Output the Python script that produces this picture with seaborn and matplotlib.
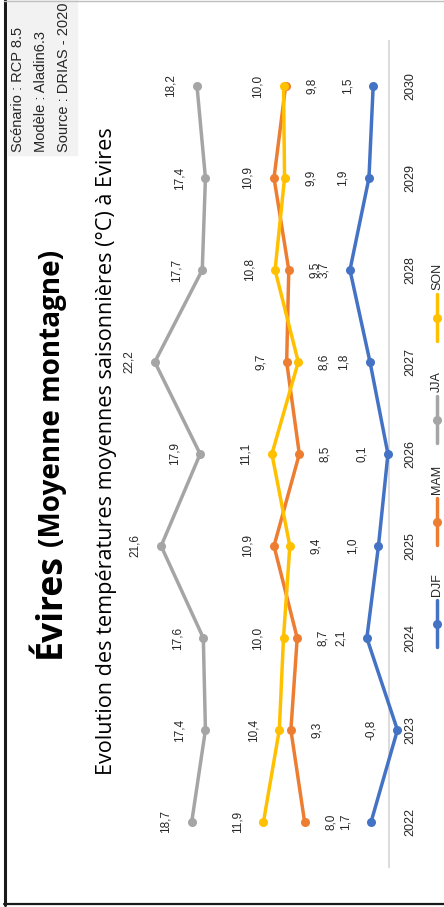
import numpy as np
import pandas as pd
import matplotlib
matplotlib.use("Agg")
import matplotlib.pyplot as plt
import seaborn as sns
from matplotlib.lines import Line2D

# ---------------- data ----------------
years = [2022, 2023, 2024, 2025, 2026, 2027, 2028, 2029, 2030]
seasons = ["DJF", "MAM", "JJA", "SON"]
djf = [1.7, -0.8, 2.1, 1.0, 0.1, 1.8, 3.7, 1.9, 1.5]
mam = [8.0, 9.3, 8.7, 10.9, 8.5, 9.7, 9.5, 10.9, 9.8]
jja = [18.7, 17.4, 17.6, 21.6, 17.9, 22.2, 17.7, 17.4, 18.2]
son = [11.9, 10.4, 10.0, 9.4, 11.1, 8.6, 10.8, 9.9, 10.0]
title_main = "Évires"
title_sub = "(Moyenne montagne)"
subtitle = "Evolution des températures moyennes saisonnières (°C) à Evires"
source_lines = ["Scénario : RCP 8.5", "Modèle : Aladin6.3", "Source : DRIAS - 2020"]

colors = {"DJF": "#4472C4", "MAM": "#ED7D31", "JJA": "#A5A5A5", "SON": "#FFC000"}
series = {"DJF": djf, "MAM": mam, "JJA": jja, "SON": son}

df = pd.DataFrame({
    "Année": years * 4,
    "Saison": [s for s in seasons for _ in years],
    "Temp": djf + mam + jja + son,
})

sns.set_theme(style="white")
plt.rcParams["font.family"] = ["Liberation Sans", "DejaVu Sans"]

W, H = 444, 907
fig = plt.figure(figsize=(W / 100, H / 100), dpi=100)
fig.patch.set_facecolor("white")


def fx(px):
    return px / W


def fy(py):
    return 1 - py / H


# value axis: 0 at x=389 px, 10.55 px per degree (larger values to the left)
zero_px, scale = 389.0, 10.55
left_px, right_px, top_px, bot_px = 100, 420, 40, 868
ax = fig.add_axes([fx(left_px), fy(bot_px), (right_px - left_px) / W, (bot_px - top_px) / H])

ax.axvline(0, color="#d9d9d9", lw=1.3, zorder=0)

sns.lineplot(data=df, x="Temp", y="Année", hue="Saison", hue_order=seasons,
             palette=colors, orient="y", marker="o", markersize=6.5,
             markeredgewidth=0, linewidth=2.5, legend=False, ax=ax, zorder=3)

ax.set_xlim((zero_px - left_px) / scale, (zero_px - right_px) / scale)
ax.set_ylim(2021.5, 2030.5)
ax.axis("off")

# year labels along the category axis
for yr in years:
    ax.annotate(str(yr), xy=(0, yr), xytext=(21, 0), textcoords="offset pixels",
                rotation=90, ha="center", va="center", fontsize=9, color="#262626")

# data labels
for i, yr in enumerate(years):
    for s in seasons:
        v = series[s][i]
        if s in ("JJA", "DJF"):
            side = -1
        else:
            other = son[i] if s == "MAM" else mam[i]
            side = -1 if v > other else 1
        ax.annotate(f"{v:.1f}".replace(".", ","), xy=(v, yr), xytext=(side * 26, 0),
                    textcoords="offset pixels", rotation=90, ha="center", va="center",
                    fontsize=8.5, color="#262626")

renderer = fig.canvas.get_renderer()


def fit(t, target):
    for _ in range(3):
        bb = t.get_window_extent(renderer)
        t.set_fontsize(t.get_fontsize() * target / bb.height)


# titles
t1 = fig.text(fx(60), fy(658), title_main, rotation=90, rotation_mode="anchor",
              ha="left", va="baseline", fontsize=26, fontweight="bold",
              family=["Open Sans", "DejaVu Sans"], color="black")
fit(t1, 105)
t2 = fig.text(fx(60), fy(547), title_sub, rotation=90, rotation_mode="anchor",
              ha="left", va="baseline", fontsize=20, fontweight="bold",
              family=["Open Sans", "DejaVu Sans"], color="black")
fit(t2, 297)
t3 = fig.text(fx(112), fy(775), subtitle, rotation=90, rotation_mode="anchor",
              ha="left", va="baseline", fontsize=14,
              family=["Open Sans", "DejaVu Sans"], color="black")
fit(t3, 647)

# source box
fig.patches.append(plt.Rectangle((fx(8), fy(155)), (77 - 8) / W, 155 / H,
                                 transform=fig.transFigure, color="#f2f2f2", zorder=0))
src = []
for xb, line in zip([22, 45, 68], source_lines):
    src.append(fig.text(fx(xb), fy(152), line, rotation=90, rotation_mode="anchor",
                        ha="left", va="baseline", fontsize=9, color="#262626"))
fit(src[2], 149)
for t in src[:2]:
    t.set_fontsize(src[2].get_fontsize())

# legend (custom, rotated)
for i, s in enumerate(seasons):
    y0 = 647 - i * 102
    fig.add_artist(Line2D([fx(437), fx(437)], [fy(y0), fy(y0 - 47)],
                          transform=fig.transFigure, color=colors[s], lw=2.5))
    fig.add_artist(Line2D([fx(437)], [fy(y0 - 23.5)], transform=fig.transFigure,
                          color=colors[s], marker="o", markersize=6.5, markeredgewidth=0))
    fig.text(fx(437), fy(y0 - 51), s, rotation=90, rotation_mode="anchor",
             ha="left", va="center", fontsize=9, color="#262626")

# frame lines
fig.add_artist(Line2D([fx(4.5), fx(4.5)], [fy(0), fy(905)], transform=fig.transFigure,
                      color="#1a1a1a", lw=2.2))
fig.add_artist(Line2D([fx(4), fx(444)], [fy(904), fy(904)], transform=fig.transFigure,
                      color="#1a1a1a", lw=1.6))
fig.add_artist(Line2D([fx(4), fx(444)], [fy(1), fy(1)], transform=fig.transFigure,
                      color="#bfbfbf", lw=1.0))

fig.savefig("out.png", dpi=100)
